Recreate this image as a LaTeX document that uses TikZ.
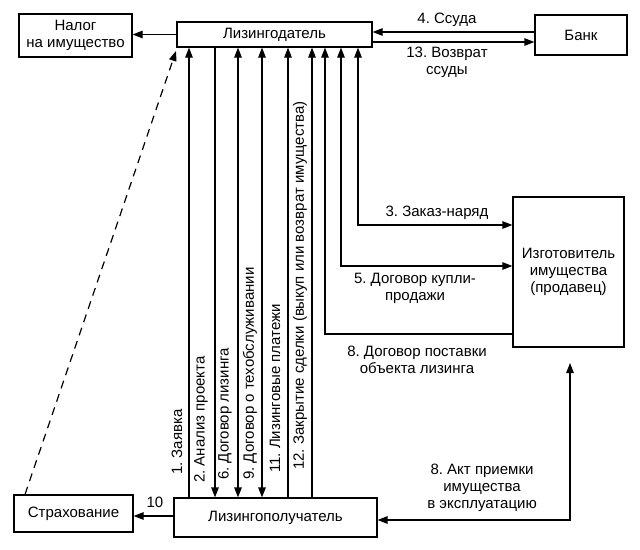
\documentclass[tikz,border=0pt]{standalone}
\usepackage{fontspec}
\setmainfont{Liberation Sans}
\usetikzlibrary{arrows.meta}
\frenchspacing
\begin{document}
\begin{tikzpicture}[x=1pt,y=-1pt,
  box/.style={draw, line width=1.2pt, inner sep=0pt, align=center, font=\fontsize{15}{17}\selectfont},
  lbl/.style={inner sep=0pt, align=center, font=\fontsize{15}{17}\selectfont},
  vl/.style={lbl, rotate=90, anchor=west},
  arr/.style={line width=1.2pt, -{Triangle[length=10pt,width=7.5pt]}},
  dbl/.style={line width=1.2pt, {Triangle[length=10pt,width=7.5pt]}-{Triangle[length=10pt,width=7.5pt]}}]
\useasboundingbox[fill=white] (0,0) rectangle (640,549);

% boxes
\node[box, minimum width=113pt, minimum height=43pt] (nalog) at (75.5,35.5) {Налог\\на имущество};
\node[box, minimum width=195pt, minimum height=25pt] (ldat) at (274.5,34.5) {Лизингодатель};
\node[box, minimum width=92pt, minimum height=40pt] (bank) at (581,35) {Банк};
\node[box, minimum width=111pt, minimum height=150pt] (izg) at (568.5,272) {Изготовитель\\имущества\\(продавец)};
\node[box, minimum width=203pt, minimum height=39pt] (lpol) at (275.5,517.5) {Лизингополучатель};
\node[box, minimum width=119pt, minimum height=37pt] (strah) at (73.5,513.5) {Страхование};

% coordinates
\coordinate (y4) at (0,32);
\coordinate (y13) at (0,42);
\coordinate (y10) at (0,516);
\coordinate (v1) at (189,0);
\coordinate (v2) at (215,0);
\coordinate (v6) at (238,0);
\coordinate (v9) at (262,0);
\coordinate (v11) at (288,0);
\coordinate (v12) at (312,0);
\coordinate (h8) at (325,334);
\coordinate (h5) at (341,266);
\coordinate (h3) at (358,225);
\coordinate (akt) at (570,520);
\coordinate (akttip) at (570,363);
\coordinate (dstart) at (25,0);
\coordinate (dtip) at (176,51);

% connectors
\draw[arr] (ldat.west) -- (ldat.west -| nalog.east);
\draw[arr] (y4 -| bank.west) -- (y4 -| ldat.east);
\draw[arr] (y13 -| ldat.east) -- (y13 -| bank.west);
\draw[arr] (v1 |- lpol.north) -- (v1 |- ldat.south);
\draw[arr] (v2 |- ldat.south) -- (v2 |- lpol.north);
\draw[dbl] (v6 |- ldat.south) -- (v6 |- lpol.north);
\draw[dbl] (v9 |- ldat.south) -- (v9 |- lpol.north);
\draw[arr] (v11 |- lpol.north) -- (v11 |- ldat.south);
\draw[arr] (v12 |- lpol.north) -- (v12 |- ldat.south);
\draw[arr] (h8 -| izg.west) -- (h8) -- (h8 |- ldat.south);
\draw[dbl] (h5 -| izg.west) -- (h5) -- (h5 |- ldat.south);
\draw[dbl] (h3 -| izg.west) -- (h3) -- (h3 |- ldat.south);
\draw[dbl] (akttip) -- (akt) -- (akt -| lpol.east);
\draw[arr] (y10 -| lpol.west) -- (y10 -| strah.east);
\draw[arr, dash pattern=on 8pt off 6pt] (dstart |- strah.north) -- (dtip);

% labels
\node[lbl] (l4) at (447,20) {4. Ссуда};
\node[lbl] (l13) at (447,62) {13. Возврат\\ссуды};
\node[lbl] (l3) at (437,213) {3. Заказ-наряд};
\node[lbl] (l5) at (415,288) {5. Договор купли-\\продажи};
\node[lbl] (l8) at (417,360) {8. Договор поставки\\объекта лизинга};
\node[lbl] (lakt) at (482,488) {8. Акт приемки\\имущества\\в эксплуатацию};
\node[lbl] (l10) at (155,502) {10};

\node[vl] (t1) at (177,475) {1. Заявка};
\node[vl] (t2) at (201,483) {2. Анализ проекта};
\node[vl] (t6) at (225,480) {6. Договор лизинга};
\node[vl] (t9) at (250,480) {9. Договор о техобслуживании};
\node[vl] (t11) at (275,473) {11. Лизинговые платежи};
\node[vl] (t12) at (300,470) {12. Закрытие сделки (выкуп или возврат имущества)};
\end{tikzpicture}
\end{document}
